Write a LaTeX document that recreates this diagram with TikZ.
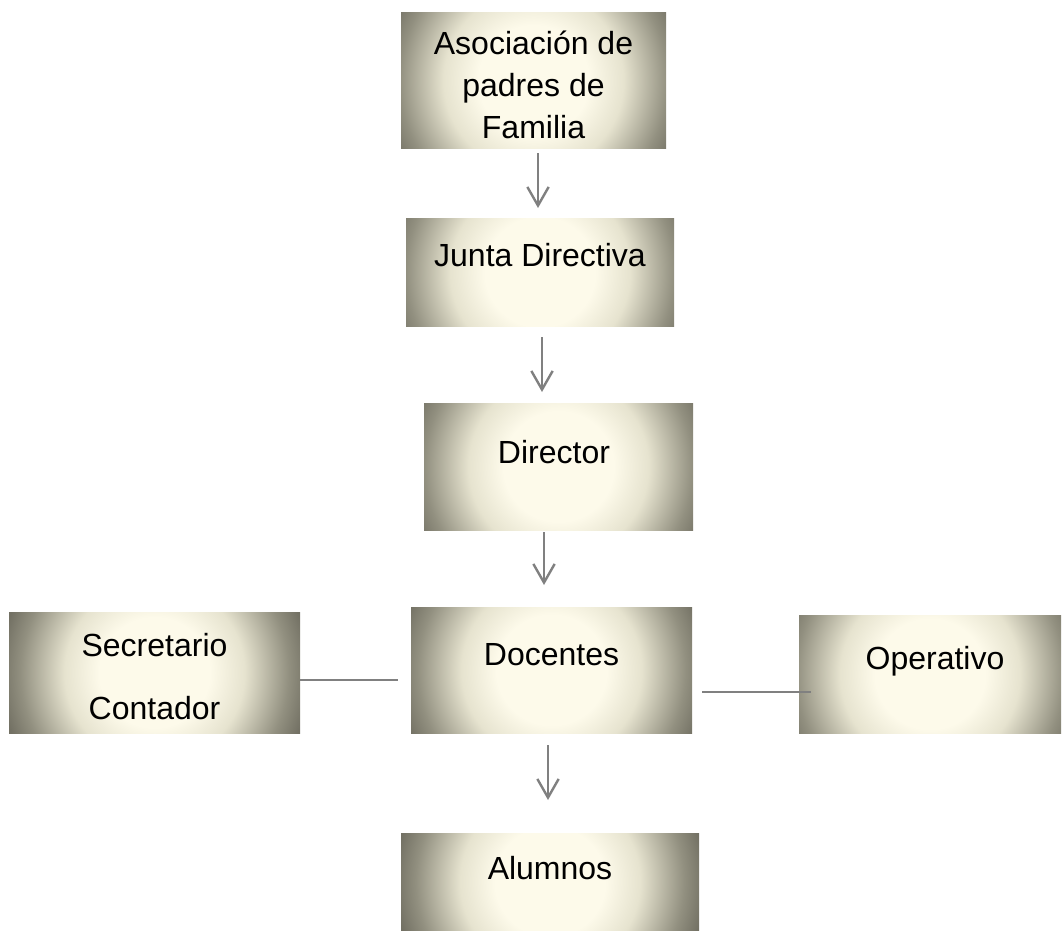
\documentclass[tikz,border=0pt]{standalone}
\usepackage{fontspec}
\setmainfont{Liberation Sans}
\usepackage{xcolor}
\usepackage{tikz}
\usetikzlibrary{
    positioning,
    arrows.meta
}
\definecolor{crema}{RGB}{253,250,234}
\definecolor{cremaBorde}{RGB}{230,227,207}
\definecolor{grisMedio}{RGB}{146,144,128}
\definecolor{grisOscuro}{RGB}{115,113,100}
\definecolor{grisLinea}{RGB}{128,128,128}
% radial shading: 25bp is the edge of the circle that is shaded
\pgfdeclareradialshading{vineta}{\pgfpoint{0bp}{0bp}}{%
    color(0bp)=(crema); color(6.9bp)=(crema); color(11.25bp)=(cremaBorde);
    color(16.75bp)=(grisMedio); color(19.4bp)=(grisOscuro); color(50bp)=(grisOscuro)}
\tikzset{
    caja/.style={
        rectangle, inner sep=0pt, outer sep=0pt,
        path picture={\shade[shading=vineta] (path picture bounding box.center) circle[radius=200];}
    },
    texto/.style={
        font=\fontsize{24pt}{31.5pt}\selectfont, align=center, inner sep=0pt
    },
    flecha/.style={
        -{Straight Barb[length=14pt, width=16pt]}, line width=1.8pt, draw=grisLinea
    },
    linea/.style={
        line width=1.5pt, draw=grisLinea
    }
}

\begin{document}
\begin{tikzpicture}[x=0.75pt, y=-0.75pt]

        \useasboundingbox (0,0) rectangle (1063,931);

        % Cajas
        \node[caja, minimum width=198.75pt, minimum height=101.25pt,
              label={[texto, yshift=-3.4pt]center:Asociación de\\padres de\\Familia}] (asociacion) at (533.5,80.5) {};
        \node[caja, minimum width=201pt, minimum height=81pt,
              label={[texto, yshift=12.75pt]center:Junta Directiva}] (junta) at (540,272) {};
        \node[caja, minimum width=201.75pt, minimum height=95.25pt,
              label={[texto, xshift=-3.4pt, yshift=10.9pt]center:Director}] (director) at (558.5,466.5) {};
        \node[caja, minimum width=210.75pt, minimum height=94.5pt,
              label={[texto, yshift=11.25pt]center:Docentes}] (docentes) at (551.5,670) {};
        \node[caja, minimum width=218.25pt, minimum height=90.75pt,
              label={[texto, yshift=-3pt]center:Secretario\\[15.75pt]Contador}] (secretario) at (154.5,672.5) {};
        \node[caja, minimum width=196.5pt, minimum height=88.5pt,
              label={[texto, xshift=3.75pt, yshift=9.75pt]center:Operativo}] (operativo) at (930,674) {};
        \node[caja, minimum width=223.5pt, minimum height=72.75pt,
              label={[texto, yshift=10.1pt]center:Alumnos}] (alumnos) at (550,881.5) {};

        % Flechas
        \draw[flecha, shorten <=3.75pt, shorten >=7.5pt]
            ([shift={(4.5,0)}]asociacion.south) -- ([shift={(4.5,0)}]asociacion.south |- junta.north);
        \draw[flecha, shorten <=8.25pt, shorten >=8.25pt]
            ([shift={(2,0)}]junta.south) -- ([shift={(2,0)}]junta.south |- director.north);
        \draw[flecha, shorten <=1.5pt, shorten >=16.5pt]
            ([shift={(-14.5,0)}]director.south) -- ([shift={(-14.5,0)}]director.south |- docentes.north);
        \draw[flecha, shorten <=9pt, shorten >=24.75pt]
            ([shift={(-3.5,0)}]docentes.south) -- ([shift={(-3.5,0)}]docentes.south |- alumnos.north);

        % Lineas laterales
        \draw[linea, shorten >=9.75pt]
            ([shift={(0,7.5)}]secretario.east) -- ([shift={(0,7.5)}]secretario.east -| docentes.west);
        \draw[linea, shorten <=7.5pt, shorten >=-9pt]
            ([shift={(0,22)}]docentes.east) -- ([shift={(0,22)}]docentes.east -| operativo.west);

\end{tikzpicture}
\end{document}
